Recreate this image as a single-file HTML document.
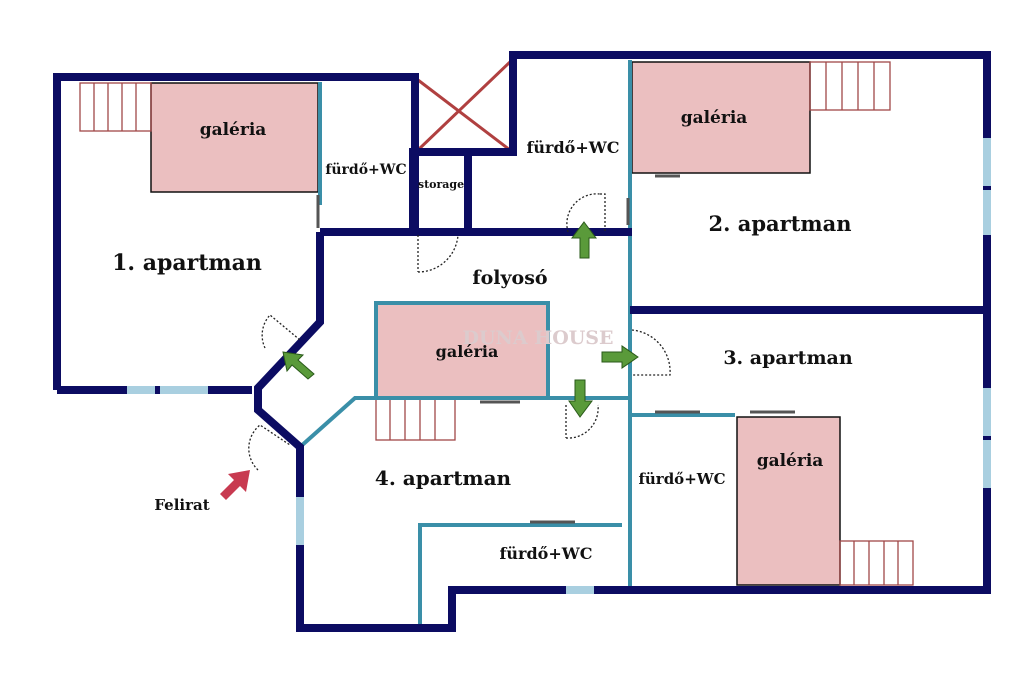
<!DOCTYPE html>
<html><head><meta charset="utf-8"><style>
html,body{margin:0;padding:0;background:#fff;width:1024px;height:676px;overflow:hidden}
svg text{font-family:"DejaVu Serif","Liberation Serif",serif;font-weight:bold;fill:#111}
</style></head><body>
<svg width="1024" height="676" viewBox="0 0 1024 676" xmlns="http://www.w3.org/2000/svg">
<rect x="151" y="83" width="167" height="109" fill="#ebbfc0" stroke="#111" stroke-width="1.5"/>
<rect x="632" y="62" width="178" height="111" fill="#ebbfc0" stroke="#111" stroke-width="1.5"/>
<rect x="378" y="305" width="168" height="92" fill="#ebbfc0"/>
<rect x="737" y="417" width="103" height="168" fill="#ebbfc0" stroke="#111" stroke-width="1.5"/>
<g fill="none" stroke="#a04848" stroke-width="1.3">
<rect x="80" y="83" width="71" height="48"/>
<path d="M94 83v48M108 83v48M122 83v48M136 83v48"/>
<rect x="810" y="62" width="80" height="48"/>
<path d="M826 62v48M842 62v48M858 62v48M874 62v48"/>
<rect x="376" y="398" width="79" height="42"/>
<path d="M390 398v42M405 398v42M420 398v42M435 398v42"/>
<rect x="840" y="541" width="73" height="44"/>
<path d="M854 541v44M869 541v44M884 541v44M898 541v44"/>
<path d="M418 80L510 150M418 150L510 62" stroke="#b04040" stroke-width="3"/>
</g>
<g fill="none" stroke="#3a8fa8" stroke-width="4">
<path d="M320 82V205"/>
<path d="M630 60V232M630 232V590"/>
<rect x="376" y="303" width="172" height="95"/>
<path d="M300 447L355 398H376M548 398H630"/>
<path d="M632 415H735"/>
<path d="M420 628V525H622"/>
</g>
<g fill="none" stroke="#0c0c62" stroke-width="8" stroke-linejoin="miter">
<path d="M57 390V77H415V232"/>
<path d="M57 390H252"/>
<path d="M320 232V322L258 388V410L300 447V628H452V590H987V55H513V152H413V232"/>
<path d="M468 152V232"/>
<path d="M320 232H632"/>
<path d="M630 310H987"/>
</g>
<g fill="#a9cfe0">
<rect x="127" y="386" width="28" height="8"/><rect x="160" y="386" width="48" height="8"/>
<rect x="296" y="497" width="8" height="48"/>
<rect x="566" y="586" width="28" height="8"/>
<rect x="983" y="138" width="8" height="48"/><rect x="983" y="190" width="8" height="45"/>
<rect x="983" y="388" width="8" height="48"/><rect x="983" y="440" width="8" height="48"/>
</g>
<g fill="none" stroke="#222" stroke-width="1.3" stroke-dasharray="2,2">
<path d="M418 272A40 40 0 0 0 458 235"/><path d="M418 235V272"/>
<path d="M568 232A30 30 0 0 1 600 194"/><path d="M600 194H605V232"/>
<path d="M566 438A30 30 0 0 0 598 405"/><path d="M566 405V438"/>
<path d="M632 330A42 42 0 0 1 670 375H632"/>
<path d="M265 348A30 30 0 0 1 270 315L300 340"/>
<path d="M258 470A30 30 0 0 1 260 425L290 445"/>
</g>
<g stroke="#555" stroke-width="3">
<path d="M318 195V228M628 198V225M655 176H680M480 402H520M530 522H575M655 412H700M750 412H795"/>
</g>
<g fill="#5a9a3a" stroke="#2a5a1a" stroke-width="1">
<polygon points="584,222 596,238 589,238 589,258 580,258 580,238 572,238"/>
<polygon points="638,357 622,346 622,352 602,352 602,362 622,362 622,368"/>
<polygon points="580,417 569,401 575,401 575,380 585,380 585,401 592,401"/>
<polygon points="283,352 303,355 298,360 314,374 308,379 292,365 287,371"/>
</g>
<polygon points="250,470 246,492 240,486 226,500 220,494 234,480 228,474" fill="#c83a50"/>
<text x="538" y="344" font-size="19" style="fill:#dccbcd" text-anchor="middle" font-weight="normal">DUNA HOUSE</text>
<text x="233" y="135" font-size="17" text-anchor="middle">galéria</text>
<text x="714" y="123" font-size="17" text-anchor="middle">galéria</text>
<text x="467" y="357" font-size="16" text-anchor="middle">galéria</text>
<text x="790" y="466" font-size="17" text-anchor="middle">galéria</text>
<text x="366" y="174" font-size="14" text-anchor="middle">fürdő+WC</text>
<text x="573" y="153" font-size="16" text-anchor="middle">fürdő+WC</text>
<text x="682" y="484" font-size="15" text-anchor="middle">fürdő+WC</text>
<text x="546" y="559" font-size="16" text-anchor="middle">fürdő+WC</text>
<text x="441" y="188" font-size="11" text-anchor="middle" font-weight="normal">storage</text>
<text x="187" y="270" font-size="22" text-anchor="middle">1. apartman</text>
<text x="780" y="231" font-size="21" text-anchor="middle">2. apartman</text>
<text x="788" y="364" font-size="19" text-anchor="middle">3. apartman</text>
<text x="443" y="485" font-size="20" text-anchor="middle">4. apartman</text>
<text x="510" y="284" font-size="19" text-anchor="middle">folyosó</text>
<text x="182" y="510" font-size="15" text-anchor="middle">Felirat</text>
</svg>
</body></html>
